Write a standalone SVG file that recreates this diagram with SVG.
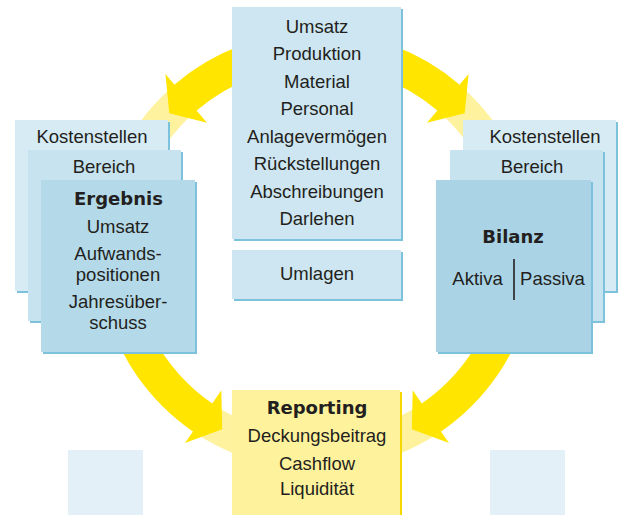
<svg xmlns="http://www.w3.org/2000/svg" width="620" height="515" viewBox="0 0 620 515">
<style>
  .t { font-family: "Liberation Sans", Arial, sans-serif; font-size: 18.5px; fill: #231f20; text-anchor: middle; }
  .b { font-family: "DejaVu Sans", "Liberation Sans", sans-serif; font-weight: bold; font-size: 18px; fill: #231f20; text-anchor: middle; }
  .edge { fill: #7dc2dd; }
  .c1 { fill: #cde6f1; }
  .k { fill: #d7ebf4; }
  .br { fill: #c6e3ef; }
  .e { fill: #b4dae9; }
  .bl { fill: #aad4e6; }
  .arrow { fill: #ffe500; }
  .ring { fill: none; stroke: #fff29e; stroke-width: 34; }
  .sq { fill: #e3f0f7; }
</style>
<rect width="620" height="515" fill="#ffffff"/>
<g id="connectors">
  <circle class="ring" cx="317" cy="251" r="202"/>
  <path class="arrow" d="M317,32 A219,219 0 0 0 174.5,84.7 L165.4,74.1 L169.3,113.2 L207,122.7 L196.6,110.5 A185,185 0 0 1 317,66 Z"/>
  <path class="arrow" d="M317,32 A219,219 0 0 1 459.5,84.7 L468.6,74.1 L464.7,113.2 L427,122.7 L437.4,110.5 A185,185 0 0 0 317,66 Z"/>
  <path class="arrow" d="M98,251 A219,219 0 0 0 193,431.5 L185,443 L222.2,429.3 L221.3,390.3 L212.2,403.5 A185,185 0 0 1 132,251 Z"/>
  <path class="arrow" d="M536,251 A219,219 0 0 1 441,431.5 L449,443 L411.8,429.3 L412.7,390.3 L421.8,403.5 A185,185 0 0 0 502,251 Z"/>
</g>
<g id="center-list">
  <rect class="edge" x="234" y="9" width="169" height="232"/>
  <rect class="c1" x="232" y="7" width="169" height="232"/>
  <text class="t" x="317" y="33">Umsatz</text>
  <text class="t" x="317" y="60">Produktion</text>
  <text class="t" x="317" y="88">Material</text>
  <text class="t" x="317" y="115">Personal</text>
  <text class="t" x="317" y="143">Anlagevermögen</text>
  <text class="t" x="317" y="170">Rückstellungen</text>
  <text class="t" x="317" y="198">Abschreibungen</text>
  <text class="t" x="317" y="225">Darlehen</text>
</g>
<g id="umlagen">
  <rect class="edge" x="234" y="252" width="169" height="49"/>
  <rect class="c1" x="232" y="250" width="169" height="49"/>
  <text class="t" x="317" y="280">Umlagen</text>
</g>
<g id="left-kostenstellen">
  <rect class="edge" x="17" y="122" width="153" height="171"/>
  <rect class="k" x="15" y="120" width="153" height="171"/>
  <text class="t" x="92" y="143">Kostenstellen</text>
</g>
<g id="left-bereich">
  <rect class="edge" x="30" y="152" width="153" height="171"/>
  <rect class="br" x="28" y="150" width="153" height="171"/>
  <text class="t" x="104" y="173">Bereich</text>
</g>
<g id="ergebnis">
  <rect class="edge" x="43" y="182" width="154" height="172"/>
  <rect class="e" x="41" y="180" width="154" height="172"/>
  <text class="b" x="118.5" y="205">Ergebnis</text>
  <text class="t" x="118" y="233">Umsatz</text>
  <text class="t" x="118" y="260">Aufwands-</text>
  <text class="t" x="118" y="281">positionen</text>
  <text class="t" x="118" y="308">Jahresüber-</text>
  <text class="t" x="118" y="329">schuss</text>
</g>
<g id="right-kostenstellen">
  <rect class="edge" x="465" y="122" width="153" height="171"/>
  <rect class="k" x="463" y="120" width="153" height="171"/>
  <text class="t" x="545" y="143">Kostenstellen</text>
</g>
<g id="right-bereich">
  <rect class="edge" x="452" y="152" width="153" height="171"/>
  <rect class="br" x="450" y="150" width="153" height="171"/>
  <text class="t" x="532" y="173">Bereich</text>
</g>
<g id="bilanz">
  <rect class="edge" x="438" y="182" width="155" height="172"/>
  <rect class="bl" x="436" y="180" width="155" height="172"/>
  <text class="b" x="513" y="243">Bilanz</text>
  <text class="t" x="477.5" y="285">Aktiva</text>
  <line x1="514" y1="259" x2="514" y2="300" stroke="#231f20" stroke-width="1.6"/>
  <text class="t" x="552.5" y="285">Passiva</text>
</g>
<g id="reporting">
  <rect x="234" y="392" width="168" height="130" fill="#f6d800"/>
  <rect x="232" y="390" width="168" height="130" fill="#fff29c"/>
  <text class="b" x="317" y="414">Reporting</text>
  <text class="t" x="317" y="442">Deckungsbeitrag</text>
  <text class="t" x="317" y="470">Cashflow</text>
  <text class="t" x="317" y="495">Liquidität</text>
</g>
<g id="square-left">
  <rect class="sq" x="68" y="450" width="75" height="65"/>
</g>
<g id="square-right">
  <rect class="sq" x="490" y="450" width="75" height="65"/>
</g>
</svg>
